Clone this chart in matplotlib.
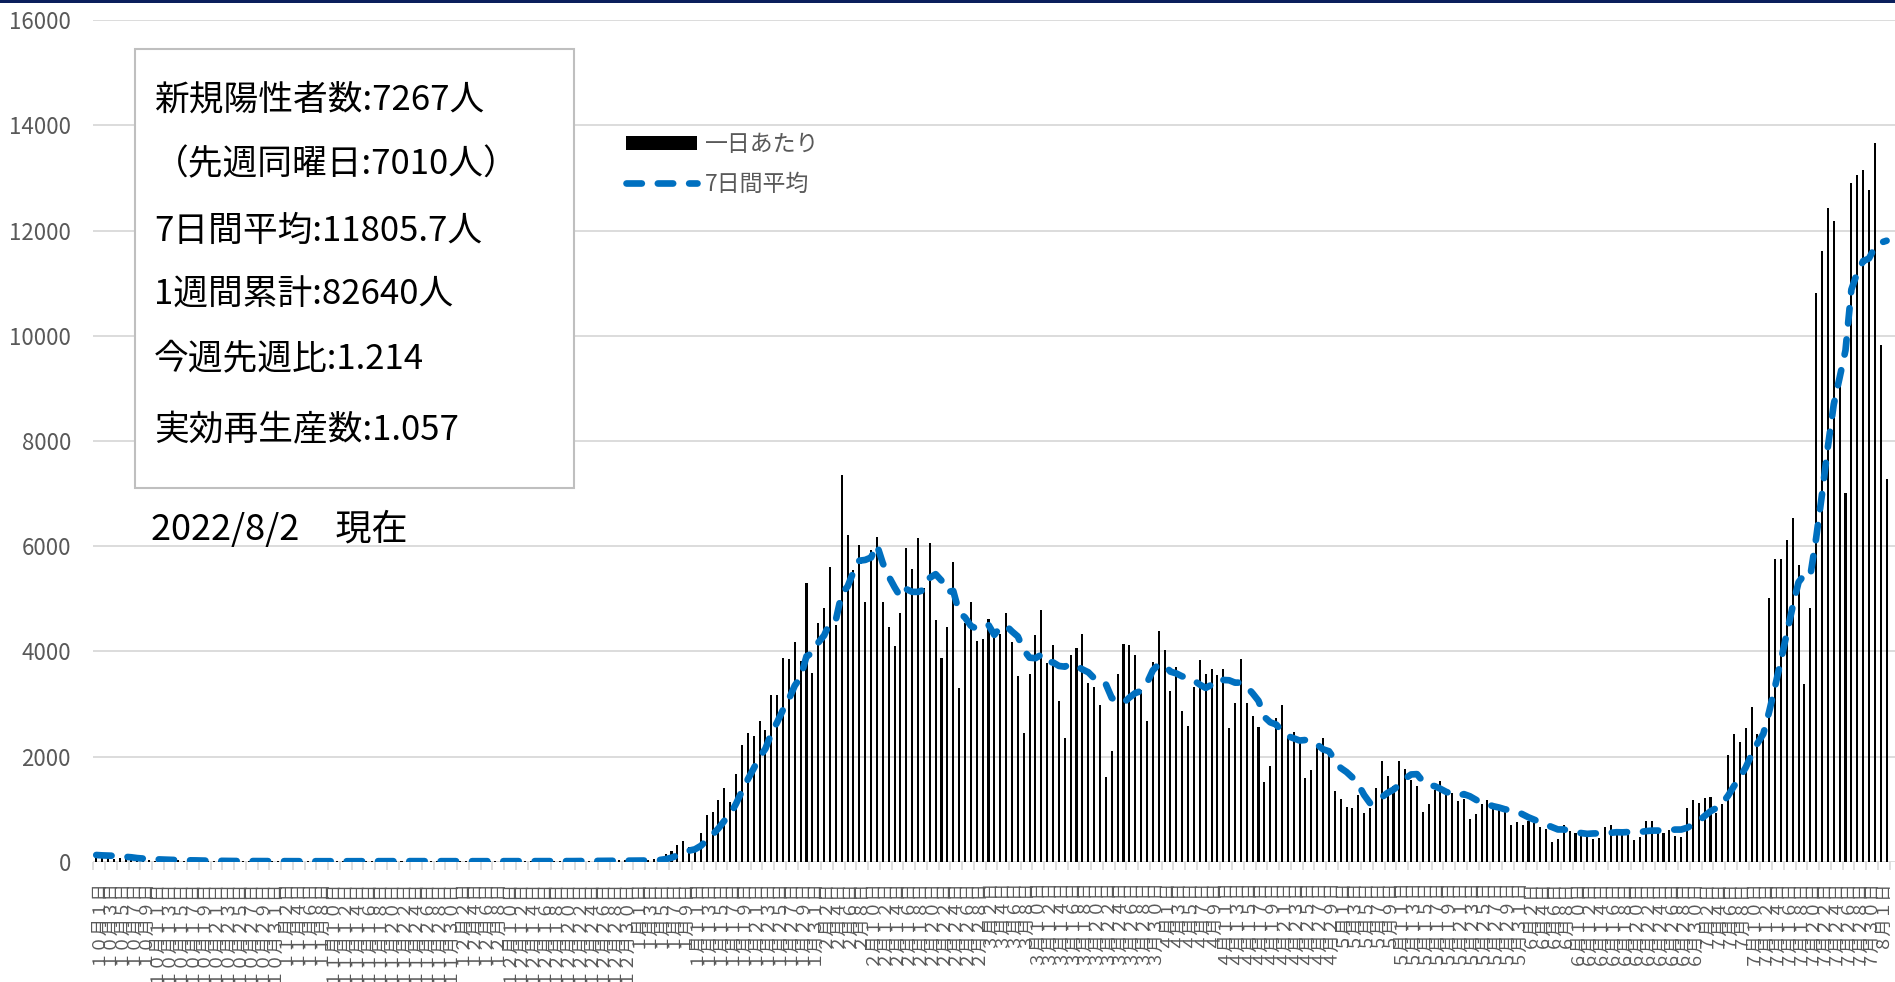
import matplotlib
matplotlib.use("Agg")
import matplotlib.pyplot as plt
from matplotlib.lines import Line2D
from matplotlib.patches import Patch, Rectangle
import numpy as np
import pandas as pd

plt.rcParams['font.family'] = ['Noto Sans CJK JP', 'DejaVu Sans']

# daily new positives, one list per month (2021/10/1 - 2022/8/2)
sep_tail = [160, 120, 70, 140, 130, 120]  # 9/25-9/30, only used to start the 7-day mean
oct_ = [152, 110, 90, 45, 70, 62, 55, 50, 42, 30, 22, 35, 30, 28, 25, 21, 20, 14, 10, 16,
        18, 14, 13, 11, 8, 12, 15, 11, 10, 9, 7]
nov = [8, 10, 12, 9, 11, 7, 5, 6, 13, 11, 9, 12, 8, 7, 6, 12, 10, 14, 11, 9,
       7, 6, 13, 15, 12, 10, 8, 6, 9, 14]
dec = [12, 10, 9, 8, 6, 11, 13, 10, 12, 9, 7, 6, 14, 11, 10, 9, 12, 8, 7, 15,
       18, 16, 14, 12, 10, 16, 22, 25, 30, 27, 20]
jan = [18, 14, 25, 45, 80, 139, 209, 323, 393, 285, 222, 539, 881, 951, 1166, 1394, 1134,
       1660, 2212, 2440, 2396, 2681, 2510, 3162, 3162, 3872, 3859, 4182, 3815, 5291, 3593]
feb = [4544, 4823, 5608, 4500, 7350, 6204, 5550, 6020, 4930, 5925, 6166, 4930, 4455, 4106,
       4721, 5969, 5564, 6160, 5200, 6058, 4594, 3866, 4455, 5703, 3295, 4531, 4943, 4201]
mar = [4227, 4613, 4372, 4328, 4734, 4170, 3530, 2440, 3574, 4309, 4784, 3770, 4119, 3054,
       2345, 3923, 4062, 4322, 3390, 3327, 2978, 1616, 2104, 3561, 4138, 4113, 3929, 3264,
       2668, 3790, 4385]
apr = [4018, 3238, 3694, 2871, 2579, 3327, 3840, 3574, 3656, 3555, 3656, 2535, 3010, 3853,
       3023, 2769, 2566, 1515, 1812, 2725, 2978, 2345, 2471, 2281, 1584, 1743, 2186, 2345,
       2091, 1337]
may = [1191, 1039, 1020, 1261, 932, 1014, 1394, 1914, 1635, 1445, 1907, 1762, 1553, 1439,
       944, 1096, 1362, 1540, 1350, 1299, 1160, 1185, 817, 906, 1096, 1172, 1046, 982, 951,
       697, 754]
jun = [697, 779, 729, 653, 615, 380, 437, 697, 589, 539, 558, 507, 431, 450, 665, 697, 615,
       539, 551, 412, 475, 779, 767, 615, 551, 602, 488, 475, 1014, 1165]
jul = [1119, 1219, 1228, 919, 1101, 2038, 2430, 2284, 2539, 2939, 2421, 2357, 5014, 5760,
       5760, 6115, 6543, 5642, 3376, 4814, 10820, 11602, 12422, 12185, 9200, 7010, 12900,
       13049, 13159, 12776, 13670]
aug = [9819, 7267]

summary_lines = [
    '新規陽性者数:7267人',
    '（先週同曜日:7010人）',
    '7日間平均:11805.7人',
    '1週間累計:82640人',
    '今週先週比:1.214',
    '実効再生産数:1.057',
]
as_of = '2022/8/2\u3000現在'

daily = oct_ + nov + dec + jan + feb + mar + apr + may + jun + jul + aug
avg7 = pd.Series(sep_tail + daily).rolling(7).mean().to_numpy()[len(sep_tail):]
dates = pd.date_range('2021-10-01', periods=len(daily), freq='D')

zen = str.maketrans('0123456789', '０１２３４５６７８９')
labels = [f'{d.month}月{d.day}日'.translate(zen) for d in dates]

W, H = 1895, 982
fx = lambda px: px / W
fy = lambda py: 1 - py / H

fig = plt.figure(figsize=(W / 100, H / 100), dpi=100)
left, right, top, bottom = 93.3, 1895, 20.1, 861.7
ax = fig.add_axes([fx(left), fy(bottom), fx(right) - fx(left), fy(top) - fy(bottom)])

x = np.arange(len(daily))
blue = '#0070C0'
grey = '#D9D9D9'
ax.bar(x, daily, width=0.35, color='black', zorder=2)
ax.plot(x, avg7, color=blue, lw=4.8, dashes=(2.3, 2.4), dash_capstyle='round', zorder=3)

step = 5.87
ax.set_xlim(-0.5, -0.5 + (right - left) / step)
ax.set_ylim(0, 16000)

for s in ax.spines.values():
    s.set_visible(False)
ax.set_yticks(range(0, 16001, 2000))
ax.yaxis.grid(True, color=grey, lw=1.3, zorder=0)
ax.set_axisbelow(True)
ax.tick_params(axis='y', length=0, pad=16, labelsize=16, labelcolor='#595959')

ax.set_xticks(x[::2])
ax.set_xticklabels(labels[::2], rotation=90, fontsize=12.5, color='#595959', va='top')
ax.set_xticks(np.arange(-0.5, len(daily), 2), minor=True)
ax.tick_params(axis='x', which='major', length=0, pad=12)
ax.tick_params(axis='x', which='minor', length=5.4, width=1.2, color=grey)

handles = [
    Patch(facecolor='black', edgecolor='none', label='一日あたり'),
    Line2D([], [], color=blue, lw=4.8, dashes=(2.3, 2.4), dash_capstyle='round', label='7日間平均'),
]
ax.legend(handles=handles, loc='upper left', bbox_to_anchor=(fx(626), fy(133)),
          bbox_transform=fig.transFigure, frameon=False, fontsize=16.5,
          handlelength=3.1, handleheight=0.62, handletextpad=0.33, labelspacing=0.75,
          borderpad=0, borderaxespad=0, labelcolor='#595959')

# summary box
fig.add_artist(Rectangle((fx(135), fy(488)), fx(574) - fx(135), fy(49.3) - fy(488),
                         transform=fig.transFigure, facecolor='white', edgecolor='#BFBFBF', lw=1.5))
for text, yc in zip(summary_lines, [100, 165, 231, 295, 360, 431]):
    fig.text(fx(154), fy(yc), text, fontsize=25, color='black', va='center', ha='left')
fig.text(fx(151), fy(529), as_of, fontsize=26, color='black', va='center', ha='left')

# navy strip along the top edge
fig.add_artist(Rectangle((0, fy(3.3)), 1, 3.3 / H, transform=fig.transFigure,
                         facecolor='#0b1f5c', edgecolor='none'))

fig.savefig('out.png', dpi=100)
